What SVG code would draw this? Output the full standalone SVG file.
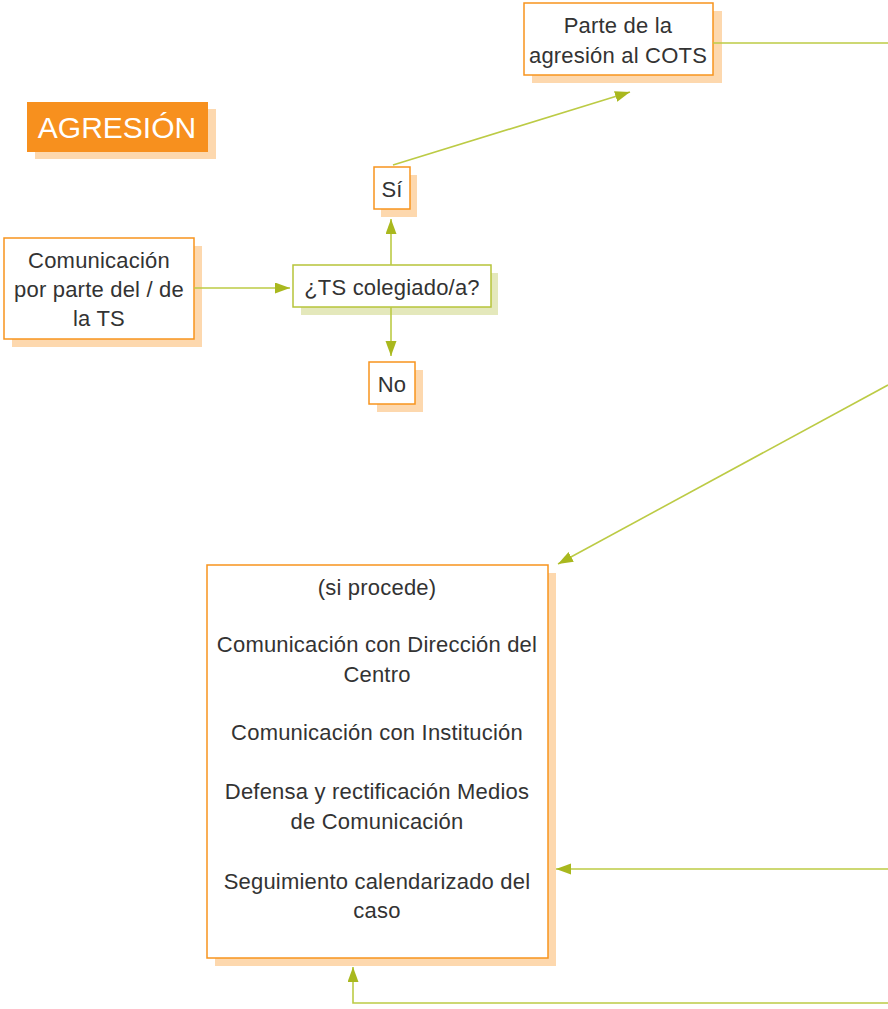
<svg xmlns="http://www.w3.org/2000/svg" width="888" height="1009" viewBox="0 0 888 1009">
<defs>
<marker id="arr" markerUnits="userSpaceOnUse" markerWidth="16" markerHeight="12" refX="15" refY="5.5" orient="auto">
<path d="M0,0 L15,5.5 L0,11 z" fill="#a9b81e"/>
</marker>
<style>
.box{fill:#fff;stroke:#f7941e;stroke-width:1.5}
.gbox{fill:#fff;stroke:#b6c43a;stroke-width:1.5}
.sh{fill:#fdd8ae}
.gsh{fill:#e4e8bb}
.t{font-family:"Liberation Sans",Arial,sans-serif;font-size:22px;fill:#333;text-anchor:middle;letter-spacing:0.2px}
.ln{fill:none;stroke:#bccb45;stroke-width:1.6}
</style>
</defs>
<rect width="888" height="1009" fill="#fff"/>

<g id="title">
<rect x="35" y="109" width="181" height="50" class="sh"/>
<rect x="27" y="102" width="181" height="50" fill="#f7901e"/>
<text x="117" y="138" font-family="Liberation Sans,Arial,sans-serif" font-size="30" fill="#fff" text-anchor="middle">AGRESIÓN</text>
</g>

<g id="parte">
<rect x="532" y="11" width="190" height="72" class="sh"/>
<rect x="524" y="3" width="189" height="72" class="box"/>
<text class="t" x="618" y="33">Parte de la</text>
<text class="t" x="618" y="63">agresión al COTS</text>
</g>

<g id="si">
<rect x="381" y="175" width="36" height="42" class="sh"/>
<rect x="374" y="167" width="36" height="42" class="box"/>
<text class="t" x="392" y="197">Sí</text>
</g>

<g id="comunicacion">
<rect x="12" y="246" width="190" height="101" class="sh"/>
<rect x="4" y="238" width="190" height="101" class="box"/>
<text class="t" x="99" y="268">Comunicación</text>
<text class="t" x="99" y="297">por parte del / de</text>
<text class="t" x="99" y="326">la TS</text>
</g>

<g id="colegiado">
<rect x="301" y="273" width="197" height="42" class="gsh"/>
<rect x="293" y="265" width="198" height="42" class="gbox"/>
<text class="t" x="392" y="295">¿TS colegiado/a?</text>
</g>

<g id="no">
<rect x="377" y="370" width="46" height="42" class="sh"/>
<rect x="369" y="362" width="46" height="42" class="box"/>
<text class="t" x="392" y="392">No</text>
</g>

<g id="acciones">
<rect x="215" y="573" width="341" height="393" class="sh"/>
<rect x="207" y="565" width="341" height="393" class="box"/>
<text class="t" x="377" y="595">(si procede)</text>
<text class="t" x="377" y="652">Comunicación con Dirección del</text>
<text class="t" x="377" y="682">Centro</text>
<text class="t" x="377" y="740">Comunicación con Institución</text>
<text class="t" x="377" y="799">Defensa y rectificación Medios</text>
<text class="t" x="377" y="829">de Comunicación</text>
<text class="t" x="377" y="889">Seguimiento calendarizado del</text>
<text class="t" x="377" y="918">caso</text>
</g>

<g id="connectors">
<line class="ln" x1="393" y1="165" x2="630" y2="92" marker-end="url(#arr)"/>
<line class="ln" x1="713" y1="43" x2="888" y2="43"/>
<line class="ln" x1="194" y1="288" x2="290" y2="288" marker-end="url(#arr)"/>
<line class="ln" x1="391" y1="265" x2="391" y2="219" marker-end="url(#arr)"/>
<line class="ln" x1="391" y1="307" x2="391" y2="356" marker-end="url(#arr)"/>
<line class="ln" x1="888" y1="385" x2="558" y2="564" marker-end="url(#arr)"/>
<line class="ln" x1="888" y1="869" x2="556" y2="869" marker-end="url(#arr)"/>
<polyline class="ln" points="888,1003 353,1003 353,967" marker-end="url(#arr)"/>
</g>
</svg>
